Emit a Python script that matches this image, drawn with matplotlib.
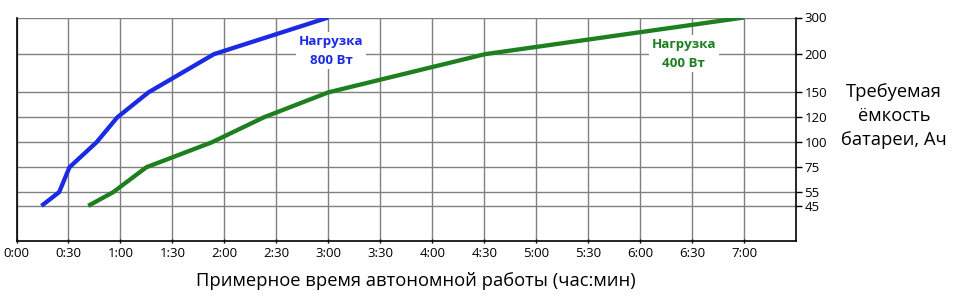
import numpy as np
import matplotlib.pyplot as plt

plt.rcParams['font.family'] = ['Open Sans', 'DejaVu Sans']

# time in hours, capacity in Ah
t_800 = [0.24, 0.41, 0.51, 0.77, 0.97, 1.27, 1.90, 3.00]
ah_800 = [45, 55, 75, 100, 120, 150, 200, 300]
t_400 = [0.69, 0.93, 1.25, 1.88, 2.38, 3.00, 4.51, 7.00]
ah_400 = [45, 55, 75, 100, 120, 150, 200, 300]

y_ticks = [45, 55, 75, 100, 120, 150, 200, 300]
x_ticks = [i * 0.5 for i in range(15)]
x_labels = ['%d:%02d' % (int(h), int(round((h % 1) * 60))) for h in x_ticks]

# uneven scale of the capacity axis (value -> position)
knot_val = np.array([25, 45, 55, 75, 100, 120, 150, 200, 300, 400])
knot_pos = np.array([0, 34.7, 48.4, 73.4, 98.4, 123.4, 148.4, 186.7, 223.4, 260.1])


def fwd(v):
    return np.interp(v, knot_val, knot_pos)


def inv(p):
    return np.interp(p, knot_pos, knot_val)


fig = plt.figure(figsize=(9.61, 3.03), dpi=100)
ax = fig.add_axes([16.5 / 961, 1 - 240.5 / 303, (796 - 16.5) / 961, (240.5 - 17.5) / 303])

ax.set_yscale('function', functions=(fwd, inv))
ax.set_ylim(25, 300)
ax.set_xlim(0, 7.5)

ax.plot(t_800, ah_800, color='#1a2be3', lw=3.1, solid_capstyle='butt', zorder=3)
ax.plot(t_400, ah_400, color='#1d7f1f', lw=3.1, solid_capstyle='butt', zorder=3)

ax.set_xticks(x_ticks)
ax.set_xticklabels(x_labels)
ax.set_yticks(y_ticks)
ax.set_yticklabels([str(v) for v in y_ticks])
ax.yaxis.tick_right()
ax.minorticks_off()
ax.tick_params(axis='y', length=4, width=1, labelsize=9.5, pad=2)
ax.tick_params(axis='x', length=3, width=1, direction='inout', labelsize=9.5, pad=3)

ax.grid(True, color='#808080', lw=1)
ax.set_axisbelow(True)
for side in ['left', 'bottom', 'right']:
    ax.spines[side].set_color('black')
    ax.spines[side].set_linewidth(1.2)
ax.spines['top'].set_visible(False)

box = dict(facecolor='white', edgecolor='none', pad=2)
ax.text(3.03, inv(189.9), 'Нагрузка\n800 Вт', color='#1a2be3', fontsize=9.6,
        fontweight='bold', ha='center', va='center', linespacing=1.55, bbox=box, zorder=4)
ax.text(6.42, inv(186.9), 'Нагрузка\n400 Вт', color='#1d7f1f', fontsize=9.6,
        fontweight='bold', ha='center', va='center', linespacing=1.55, bbox=box, zorder=4)

fig.text(416 / 961, 1 - 281 / 303, 'Примерное время автономной работы (час:мин)',
         fontsize=13.2, ha='center', va='center')
fig.text(894 / 961, 1 - 116 / 303, 'Требуемая\nёмкость\nбатареи, Ач',
         fontsize=13.2, ha='center', va='center', linespacing=1.42)

fig.savefig('out.png', dpi=100)
